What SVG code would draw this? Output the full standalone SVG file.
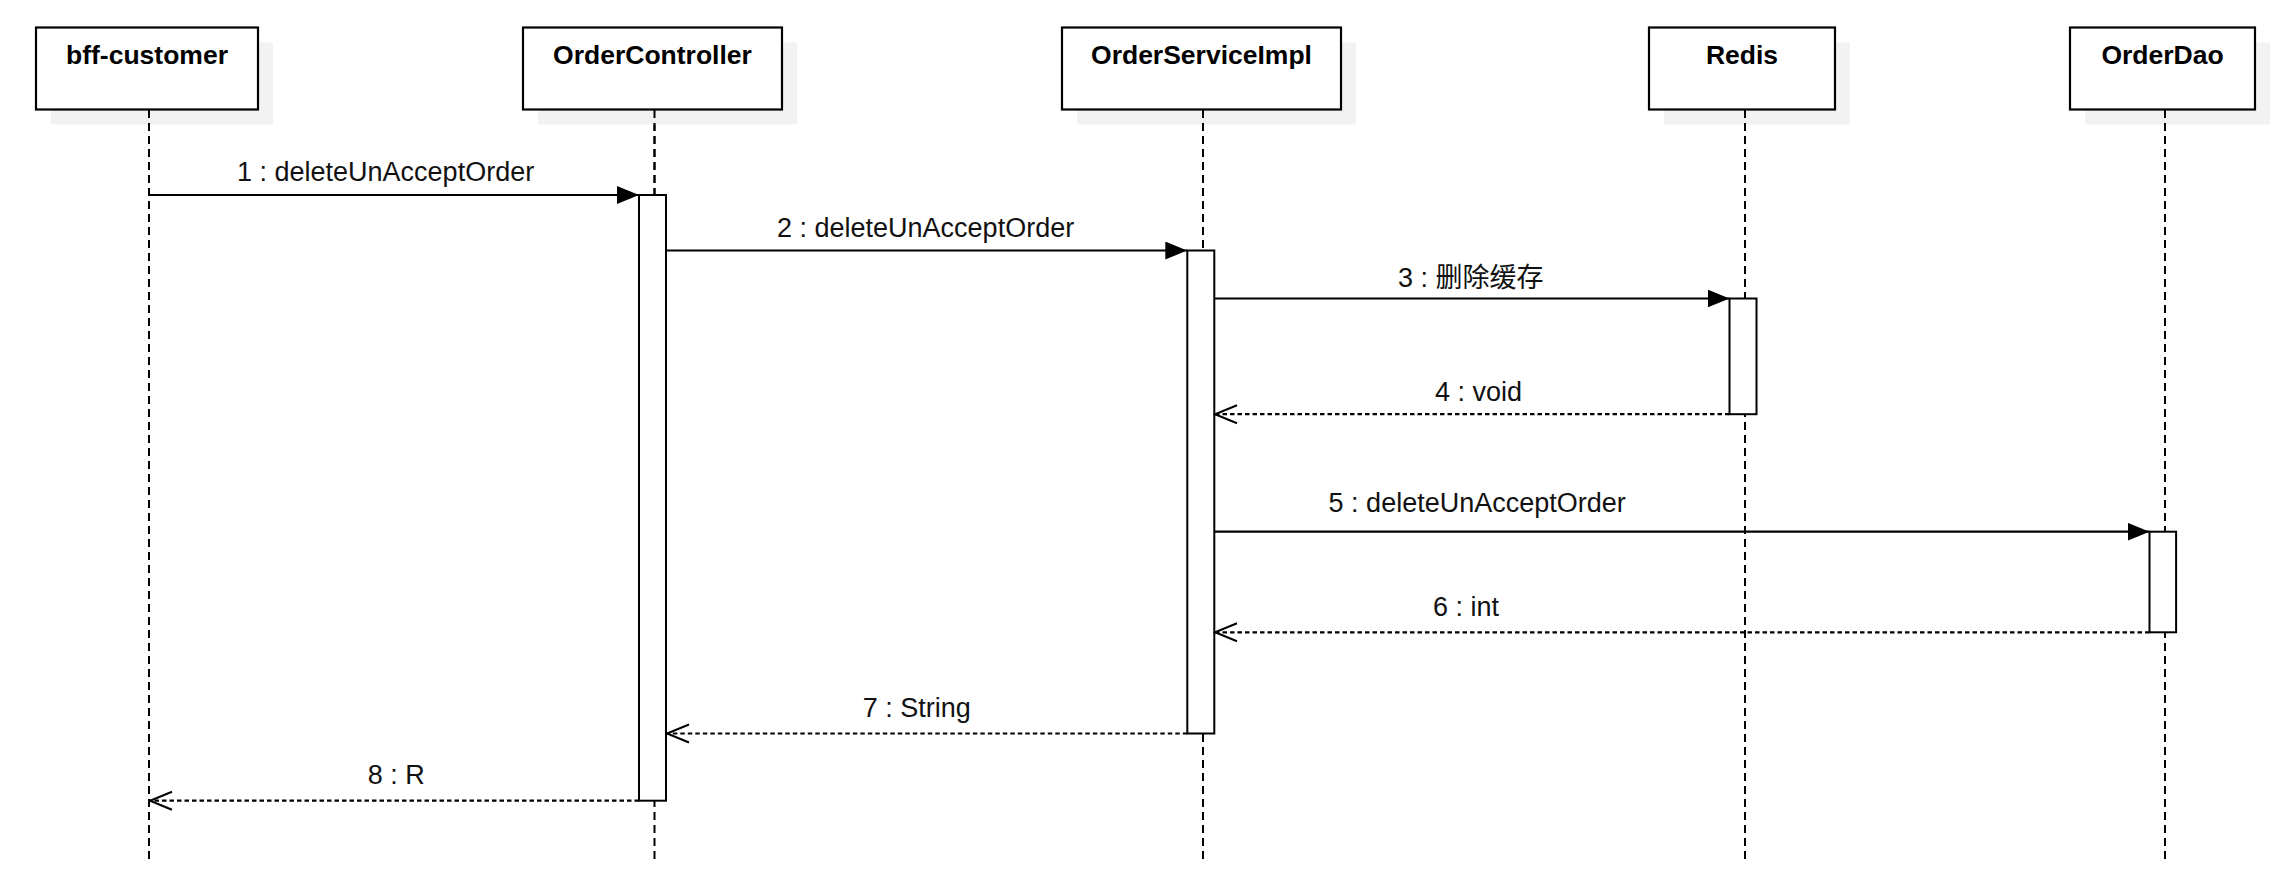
<svg xmlns="http://www.w3.org/2000/svg" width="2295" height="884" viewBox="0 0 2295 884">
<style>
.bg{fill:#ffffff}
.shadow{fill:#f2f2f2;stroke:none}
.box{fill:#ffffff;stroke:#000;stroke-width:2.2}
.title{font-family:"Liberation Sans",Arial,sans-serif;font-weight:bold;font-size:26.5px;fill:#000;text-anchor:middle}
.life{stroke:#000;stroke-width:2;stroke-dasharray:8 5;fill:none}
.act{fill:#ffffff;stroke:#000;stroke-width:2}
.call{stroke:#000;stroke-width:2.2;fill:none}
.ret{stroke:#000;stroke-width:2.2;stroke-dasharray:4.5 3;fill:none}
.lbl{font-family:"Liberation Sans","Noto Sans CJK SC",Arial,sans-serif;font-size:27px;fill:#111}
</style>
<defs>
<marker id="filled" markerUnits="userSpaceOnUse" viewBox="0 0 22 18" markerWidth="22" markerHeight="18" refX="22" refY="9" orient="auto">
<path d="M0,0 L22,9 L0,18 Z" fill="#000"/>
</marker>
<marker id="open" markerUnits="userSpaceOnUse" viewBox="-2 -2 26 22" markerWidth="26" markerHeight="22" refX="22" refY="9" orient="auto">
<path d="M0,0 L22,9 L0,18" fill="none" stroke="#000" stroke-width="2"/>
</marker>
</defs>
<rect class="bg" x="0" y="0" width="2295" height="884"/>

<g id="lifelines">
<line class="life" x1="149" y1="110" x2="149" y2="862"/>
<line class="life" x1="654.5" y1="110" x2="654.5" y2="862"/>
<line class="life" x1="1203" y1="110" x2="1203" y2="862"/>
<line class="life" x1="1745" y1="110" x2="1745" y2="862"/>
<line class="life" x1="2165" y1="110" x2="2165" y2="862"/>
</g>

<g id="bff-customer">
<rect class="shadow" x="51" y="42.5" width="222" height="82"/>
<line class="life" x1="149" y1="110" x2="149" y2="195"/>
<rect class="box" x="36" y="27.5" width="222" height="82"/>
<text class="title" x="147" y="63.5">bff-customer</text>
</g>

<g id="OrderController">
<rect class="shadow" x="538" y="42.5" width="259" height="82"/>
<line class="life" x1="654.5" y1="110" x2="654.5" y2="195"/>
<rect class="box" x="523" y="27.5" width="259" height="82"/>
<text class="title" x="652.5" y="63.5">OrderController</text>
<rect class="act" x="639" y="195" width="27" height="605.7"/>
</g>

<g id="OrderServiceImpl">
<rect class="shadow" x="1077" y="42.5" width="279" height="82"/>
<line class="life" x1="1203" y1="110" x2="1203" y2="250"/>
<rect class="box" x="1062" y="27.5" width="279" height="82"/>
<text class="title" x="1201.5" y="63.5">OrderServiceImpl</text>
<rect class="act" x="1187.3" y="250.5" width="27" height="483"/>
</g>

<g id="Redis">
<rect class="shadow" x="1664" y="42.5" width="186" height="82"/>
<line class="life" x1="1745" y1="110" x2="1745" y2="298"/>
<rect class="box" x="1649" y="27.5" width="186" height="82"/>
<text class="title" x="1742" y="63.5">Redis</text>
<rect class="act" x="1729.5" y="298.5" width="27" height="115.7"/>
</g>

<g id="OrderDao">
<rect class="shadow" x="2085" y="42.5" width="185" height="82"/>
<line class="life" x1="2165" y1="110" x2="2165" y2="531"/>
<rect class="box" x="2070" y="27.5" width="185" height="82"/>
<text class="title" x="2162.5" y="63.5">OrderDao</text>
<rect class="act" x="2149.5" y="531.7" width="26.6" height="100.6"/>
</g>

<g id="connectors">
<line class="call" x1="149" y1="195" x2="639" y2="195" marker-end="url(#filled)"/>
<text class="lbl" x="237" y="180.5">1 : deleteUnAcceptOrder</text>
<line class="call" x1="666" y1="250.5" x2="1187.3" y2="250.5" marker-end="url(#filled)"/>
<text class="lbl" x="777" y="236.5">2 : deleteUnAcceptOrder</text>
<line class="call" x1="1214.3" y1="298.5" x2="1729.5" y2="298.5" marker-end="url(#filled)"/>
<text class="lbl" x="1398" y="286.5">3 : 删除缓存</text>
<line class="ret" x1="1729.5" y1="414.2" x2="1215" y2="414.2" marker-end="url(#open)"/>
<text class="lbl" x="1435" y="401">4 : void</text>
<line class="call" x1="1214.3" y1="531.7" x2="2149.5" y2="531.7" marker-end="url(#filled)"/>
<text class="lbl" x="1328.6" y="511.7">5 : deleteUnAcceptOrder</text>
<line class="ret" x1="2149.5" y1="632.3" x2="1215" y2="632.3" marker-end="url(#open)"/>
<text class="lbl" x="1433" y="615.7">6 : int</text>
<line class="ret" x1="1187.3" y1="733.5" x2="667" y2="733.5" marker-end="url(#open)"/>
<text class="lbl" x="862.7" y="717">7 : String</text>
<line class="ret" x1="639" y1="800.7" x2="150" y2="800.7" marker-end="url(#open)"/>
<text class="lbl" x="367.7" y="784">8 : R</text>
</g>
</svg>
